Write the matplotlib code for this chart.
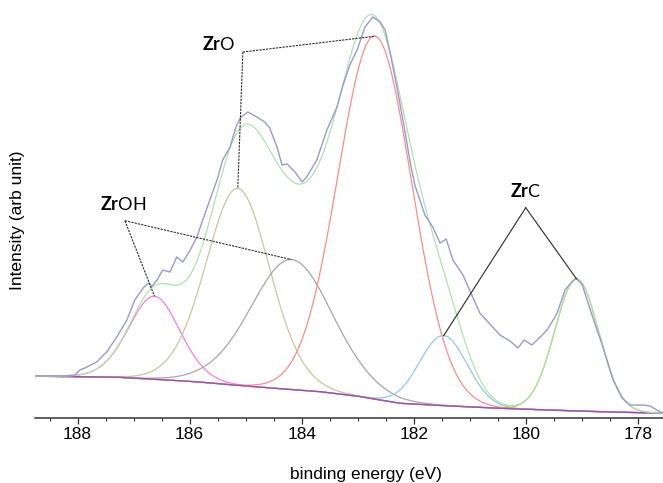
import numpy as np
import matplotlib
matplotlib.use("Agg")
import matplotlib.pyplot as plt

plt.rcParams["font.family"] = ["Liberation Sans", "DejaVu Sans"]
plt.rcParams["mathtext.fontset"] = "custom"
plt.rcParams["mathtext.rm"] = "Lato"
plt.rcParams["mathtext.bf"] = "Lato:bold"

be_meas = [188.76, 188.26, 188.05, 187.96, 187.87, 187.66, 187.48, 187.30, 187.12,
           186.98, 186.83, 186.74, 186.67, 186.58, 186.48, 186.35, 186.23, 186.12,
           185.99, 185.87, 185.76, 185.64, 185.51, 185.41, 185.28, 185.16, 185.08,
           184.96, 184.80, 184.66, 184.57, 184.44, 184.35, 184.26, 184.12, 183.99,
           183.91, 183.73, 183.55, 183.37, 183.26, 183.14, 183.01, 182.87, 182.73,
           182.60, 182.51, 182.42, 182.30, 182.16, 182.07, 181.98, 181.89, 181.80,
           181.66, 181.53, 181.42, 181.30, 181.12, 180.98, 180.82, 180.64, 180.46,
           180.28, 180.14, 180.03, 179.89, 179.74, 179.62, 179.51, 179.44, 179.30,
           179.21, 179.10, 178.99, 178.87, 178.76, 178.62, 178.44, 178.28, 178.14,
           177.91, 177.78, 177.66, 177.55]
i_meas = [41.7, 41.7, 42.7, 47.7, 49.7, 55.7, 65.7, 80.7, 97.7,
          117.7, 129.7, 134.7, 131.7, 137.7, 147.7, 145.7, 160.7, 155.7,
          167.7, 180.7, 198.7, 217.7, 237.7, 257.7, 270.7, 292.7, 300.7,
          305.7, 300.7, 295.7, 289.7, 270.7, 252.7, 253.7, 245.7, 235.7,
          240.7, 257.7, 287.7, 310.7, 332.7, 352.7, 367.7, 390.7, 400.7,
          395.7, 387.7, 364.7, 330.7, 287.7, 257.7, 232.7, 217.7, 202.7,
          190.7, 174.7, 178.7, 157.7, 142.7, 124.7, 104.7, 93.7, 82.7,
          76.7, 69.7, 77.7, 72.7, 80.7, 87.7, 97.7, 104.7, 127.7,
          133.7, 139.7, 132.7, 111.7, 92.7, 70.7, 37.7, 19.7, 12.7,
          12.7, 11.7, 7.7, 4.7]

# Shirley-type background
be_bg = [188.76, 187.30, 186.65, 185.90, 185.22, 184.50, 183.67, 183.00, 182.60,
         182.24, 181.63, 181.00, 180.46, 179.50, 178.67, 177.55]
i_bg = [41.5, 40.5, 38.5, 36.0, 32.7, 29.5, 26.0, 21.5, 17.7,
        14.4, 12.5, 10.8, 9.4, 7.5, 6.0, 4.5]

# fitted components: centre (eV), height above background, FWHM (eV), GL mix
peak_be = [186.63, 185.14, 184.18, 182.69, 181.47, 179.09]
peak_h = [83, 197, 130, 363, 70, 132]
peak_fwhm = [1.12, 1.40, 1.80, 1.55, 1.00, 0.92]
peak_gl = [0.3, 0.3, 0.3, 0.0, 0.0, 0.0]
peak_colors = ["#f47fd6", "#c9c79a", "#a6a6a6", "#ff8a8a", "#94c6ea", "#bdbd55"]

# annotation label positions (eV, intensity) and which peaks they point to
labels = [r"$\mathbf{Zr}\mathrm{O}$", r"$\mathbf{Zr}\mathrm{OH}$", r"$\mathbf{Zr}\mathrm{C}$"]
label_pos = [(185.49, 372.7), (187.18, 212.7), (180.00, 225.7)]
vertex_pos = [(185.05, 365.7), (187.155, 197.0), (180.00, 210.0)]
label_peaks = [(3, 1), (0, 2), (4, 5)]
label_ls = [(0, (2, 1)), (0, (2, 1)), "-"]


def gl_peak(x, c, h, w, m):
    # Gaussian-Lorentzian product line shape
    u = ((x - c) / w) ** 2
    return h * np.exp(-4 * np.log(2) * (1 - m) * u) / (1 + 4 * m * u)


be = np.linspace(188.76, 177.55, 800)
bg = np.interp(be, be_bg[::-1], i_bg[::-1])

fig = plt.figure(figsize=(6.63, 4.83), dpi=100)
ax = fig.add_axes([35 / 663, 65.3 / 483, 628 / 663, 417.7 / 483])

env = bg.copy()
tops = []
for c, h, w, m, col in zip(peak_be, peak_h, peak_fwhm, peak_gl, peak_colors):
    comp = gl_peak(be, c, h, w, m)
    env += comp
    ax.plot(be, bg + comp, color=col, lw=0.9, zorder=2)
    k = np.argmax(comp)
    tops.append((be[k], bg[k] + comp[k]))

ax.plot(be_bg, i_bg, color="#a24fb4", lw=1.0, zorder=3)
ax.plot(be, env, color="#aee3ae", lw=0.9, zorder=3)
ax.plot(be_meas, i_meas, color="#9a9ad0", lw=1.0, zorder=4)

for txt, lp, vp, pk, ls in zip(labels, label_pos, vertex_pos, label_peaks, label_ls):
    ax.text(lp[0], lp[1], txt, ha="center", va="center", fontsize=13, zorder=6)
    for p in pk:
        ax.plot([vp[0], tops[p][0]], [vp[1], tops[p][1]], color="#2a2a2a",
                lw=0.8, ls=ls, zorder=5)

ax.set_xlim(188.76, 177.55)
ax.set_ylim(0, 417.7)
ax.set_xticks([188, 186, 184, 182, 180, 178])
ax.set_xticks(np.arange(188.5, 177.5, -0.5), minor=True)
ax.set_yticks([])
for s in ["left", "right", "top"]:
    ax.spines[s].set_visible(False)
ax.spines["bottom"].set_color("#333333")
ax.spines["bottom"].set_linewidth(1.1)
ax.tick_params(axis="x", which="major", direction="out", length=4, width=0.9,
               color="#333333", labelsize=12.5, pad=3)
ax.tick_params(axis="x", which="minor", direction="out", length=2.5, width=0.8,
               color="#333333")
ax.patch.set_alpha(0)

fig.text(366 / 663, 1 - 475 / 483, "binding energy (eV)", ha="center", va="center",
         fontsize=12.5)
fig.text(18 / 663, 1 - 220 / 483, "Intensity (arb unit)", ha="center", va="center",
         rotation=90, fontsize=12.5)

fig.savefig("out.png", dpi=100)
